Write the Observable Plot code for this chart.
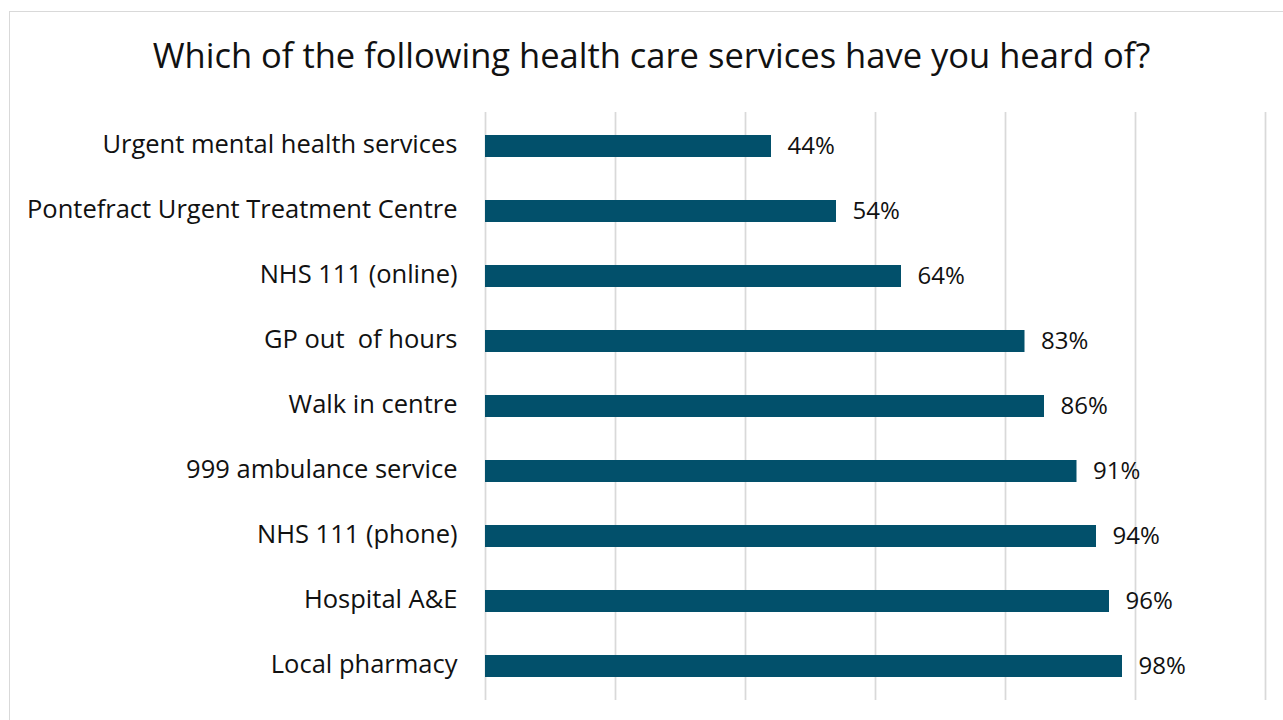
<!DOCTYPE html>
<html>
<head>
<meta charset="utf-8">
<script src="https://cdn.jsdelivr.net/npm/d3@7"></script>
<script src="https://cdn.jsdelivr.net/npm/@observablehq/plot@0.6"></script>
<style>
  html, body { margin: 0; padding: 0; background: #fff; }
  body { width: 1283px; height: 720px; position: relative; overflow: hidden; font-family: "Open Sans", sans-serif; }
  #frame { position: absolute; left: 9px; top: 11px; width: 1300px; height: 730px; border: 1.5px solid #d9d9d9; box-sizing: border-box; }
  #title { position: absolute; left: 9px; width: 1285px; top: 35px; text-align: center; font-size: 34.5px; color: #111; line-height: 40px; }
  #chart { position: absolute; left: 0; top: 90px; }
</style>
</head>
<body>
<div id="frame"></div>
<div id="title">Which of the following health care services have you heard of?</div>
<div id="chart"></div>
<script>
const categories = [
  "Urgent mental health services",
  "Pontefract Urgent Treatment Centre",
  "NHS 111 (online)",
  "GP out  of hours",
  "Walk in centre",
  "999 ambulance service",
  "NHS 111 (phone)",
  "Hospital A&E",
  "Local pharmacy"
];
const values = [44, 54, 64, 83, 86, 91, 94, 96, 98];
const gridTicks = [0, 20, 40, 60, 80, 100, 120];

const data = categories.map((c, i) => ({category: c, value: values[i]}));

const chart = Plot.plot({
  width: 1283,
  height: 630,
  marginLeft: 485,
  marginRight: 18,
  marginTop: 22,
  marginBottom: 20,
  style: {background: "transparent", fontFamily: "Open Sans, sans-serif", color: "#111"},
  x: {domain: [0, 120], axis: null},
  y: {domain: categories, paddingInner: 0.66, paddingOuter: 0.33, label: null},
  marks: [
    Plot.gridX(gridTicks, {stroke: "#d9d9d9", strokeOpacity: 1, strokeWidth: 1.75}),
    Plot.barX(data, {x: "value", y: "category", fill: "#02506b"}),
    Plot.text(data, {x: "value", y: "category", text: d => d.value + "%", textAnchor: "start", dx: 16, fontSize: 24, fill: "#111"}),
    Plot.axisY({tickSize: 0, tickPadding: 28, fontSize: 25.5, dy: -2, label: null})
  ]
});
document.getElementById("chart").appendChild(chart);
</script>
</body>
</html>
